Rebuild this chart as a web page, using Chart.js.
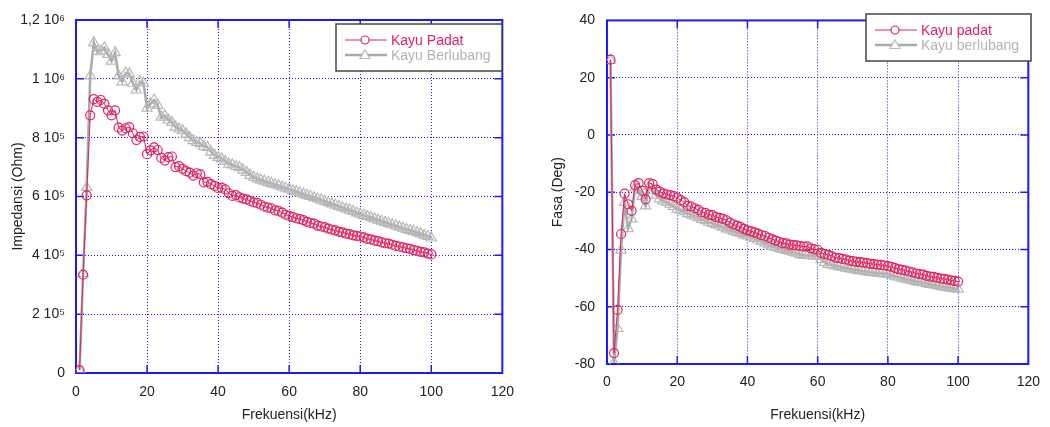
<!DOCTYPE html>
<html>
<head>
<meta charset="utf-8">
<script src="https://cdn.jsdelivr.net/npm/chart.js"></script>
<style>
  html, body { margin: 0; padding: 0; background: #fff; }
  .panel { position: absolute; top: 0; width: 525px; height: 427px; }
  #kiri { left: 0; }
  #kanan { left: 525px; }
</style>
</head>
<body>
<div class="panel" id="kiri"><canvas id="grafikImpedansi" width="525" height="427"></canvas></div>
<div class="panel" id="kanan"><canvas id="grafikFasa" width="525" height="427"></canvas></div>
<script>
// frekuensi (kHz)
const frekuensi = [
  1, 2, 3, 4, 5, 6, 7, 8, 9, 10, 11, 12, 13, 14, 15, 16, 17, 18, 19, 20,
  21, 22, 23, 24, 25, 26, 27, 28, 29, 30, 31, 32, 33, 34, 35, 36, 37, 38, 39, 40,
  41, 42, 43, 44, 45, 46, 47, 48, 49, 50, 51, 52, 53, 54, 55, 56, 57, 58, 59, 60,
  61, 62, 63, 64, 65, 66, 67, 68, 69, 70, 71, 72, 73, 74, 75, 76, 77, 78, 79, 80,
  81, 82, 83, 84, 85, 86, 87, 88, 89, 90, 91, 92, 93, 94, 95, 96, 97, 98, 99, 100
];

// impedansi (Ohm)
const impedansiPadat = [
  10000, 334000, 604000, 876000, 931000, 922000, 928000, 915000, 893000, 876000,
  893000, 834000, 824000, 832000, 836000, 815000, 792000, 803000, 804000, 744000,
  757000, 767000, 758000, 731000, 722000, 734000, 736000, 700000, 703000, 694000,
  686000, 681000, 671000, 679000, 675000, 648000, 650000, 642000, 636000, 628000,
  630000, 624000, 611000, 602000, 605000, 597000, 593000, 590000, 585000, 580000,
  578000, 572000, 566000, 562000, 560000, 553000, 551000, 545000, 538000, 534000,
  530000, 526000, 523000, 520000, 514000, 510000, 508000, 501000, 498000, 496000,
  491000, 487000, 485000, 480000, 478000, 474000, 472000, 468000, 466000, 464000,
  461000, 456000, 454000, 450000, 448000, 444000, 441000, 440000, 436000, 432000,
  430000, 427000, 424000, 422000, 418000, 415000, 412000, 410000, 406000, 403000
];
const impedansiBerlubang = [
  10000, 338000, 631000, 1010000, 1123000, 1092000, 1095000, 1106000, 1083000, 1060000,
  1089000, 1010000, 990000, 1020000, 1017000, 985000, 962000, 990000, 985000, 900000,
  915000, 928000, 910000, 870000, 875000, 860000, 852000, 836000, 830000, 824000,
  812000, 800000, 790000, 784000, 780000, 770000, 767000, 752000, 740000, 733000,
  728000, 720000, 710000, 707000, 702000, 698000, 690000, 682000, 672000, 665000,
  660000, 656000, 652000, 648000, 644000, 640000, 637000, 632000, 628000, 625000,
  620000, 616000, 612000, 608000, 604000, 600000, 596000, 592000, 588000, 583000,
  579000, 575000, 571000, 566000, 562000, 558000, 554000, 549000, 544000, 540000,
  536000, 532000, 528000, 524000, 520000, 516000, 512000, 508000, 504000, 500000,
  496000, 492000, 488000, 485000, 481000, 477000, 473000, 468000, 464000, 459000
];

// fasa (derajat)
const fasaPadat = [
  26.3, -76.2, -61.1, -34.6, -20.5, -24.2, -26.5, -17.5, -16.8, -19.5,
  -22.5, -16.8, -17.2, -19.1, -19.8, -20.4, -20.8, -21.0, -21.4, -22.0,
  -22.8, -23.5, -24.8, -25.0, -25.6, -26.2, -27.0, -27.2, -27.9, -28.0,
  -28.7, -29.0, -29.3, -29.8, -30.6, -31.2, -31.7, -32.1, -32.8, -33.3,
  -33.6, -34.0, -34.5, -35.0, -35.3, -35.9, -36.4, -36.9, -37.3, -37.8,
  -37.9, -38.3, -38.5, -38.6, -38.8, -39.0, -38.9, -39.6, -40.0, -40.1,
  -41.2, -41.6, -41.9, -42.3, -42.9, -43.0, -43.3, -43.5, -43.9, -44.1,
  -44.3, -44.4, -44.6, -44.8, -45.0, -45.1, -45.3, -45.4, -45.6, -45.8,
  -46.1, -46.5, -46.9, -47.1, -47.4, -47.7, -48.0, -48.4, -48.6, -48.8,
  -49.2, -49.5, -49.6, -49.9, -50.2, -50.3, -50.5, -50.8, -51.0, -51.2
];
const fasaBerlubang = [
  26.0, -79.6, -67.6, -40.2, -23.6, -32.7, -29.3, -18.5, -19.2, -21.5,
  -24.8, -17.9, -19.5, -21.0, -22.3, -23.0, -23.6, -24.2, -25.0, -25.9,
  -26.2, -26.8, -27.5, -27.9, -28.4, -28.9, -29.5, -29.9, -30.5, -30.9,
  -31.3, -31.8, -32.2, -32.8, -33.2, -33.6, -34.0, -34.4, -34.9, -35.3,
  -35.7, -36.1, -36.7, -37.2, -37.8, -38.4, -38.9, -39.2, -39.6, -40.0,
  -40.3, -40.6, -40.9, -41.3, -41.8, -42.0, -42.1, -42.2, -42.3, -42.4,
  -43.5, -44.5, -45.2, -45.4, -45.7, -46.0, -46.2, -46.5, -46.7, -47.0,
  -47.2, -47.4, -47.6, -47.8, -48.0, -48.1, -48.3, -48.4, -48.5, -48.6,
  -48.9, -49.3, -49.7, -50.0, -50.3, -50.6, -50.9, -51.2, -51.4, -51.6,
  -51.9, -52.2, -52.4, -52.6, -52.9, -53.1, -53.3, -53.5, -53.7, -53.9
];

// label sumbu
const labelImpedansi = ['0', '2 10\u2075', '4 10\u2075', '6 10\u2075', '8 10\u2075', '1 10\u2076', '1,2 10\u2076'];
const labelFasa = ['-80', '-60', '-40', '-20', '0', '20', '40'];
const namaSeriKiri = ['Kayu Padat', 'Kayu Berlubang'];
const namaSeriKanan = ['Kayu padat', 'Kayu berlubang'];

const MERAH = '#e2225c';
const ABU = '#a9a9a9';
const ABU_TEKS = '#b3b3b3';
const BIRU = '#1a1aff';
const FONT = '"Liberation Sans", Arial, sans-serif';

function titik(xs, ys) {
  return xs.map((x, i) => ({ x: x, y: ys[i] }));
}

function gambarPenanda(ctx, gaya, x, y, warna) {
  ctx.save();
  ctx.strokeStyle = warna;
  ctx.lineWidth = 1.2;
  ctx.beginPath();
  if (gaya === 'circle') {
    ctx.arc(x, y, 4, 0, Math.PI * 2);
  } else {
    ctx.moveTo(x, y - 5);
    ctx.lineTo(x + 5, y + 3.5);
    ctx.lineTo(x - 5, y + 3.5);
    ctx.closePath();
  }
  ctx.fillStyle = '#fff';
  ctx.fill();
  ctx.stroke();
  ctx.restore();
}

// bingkai biru, tanda tick ke dalam, dan kotak legenda
const bingkaiPlugin = {
  id: 'bingkai',
  beforeDatasetsDraw(chart) {
    const { ctx, chartArea: a, scales } = chart;
    ctx.save();
    ctx.strokeStyle = BIRU;
    ctx.lineWidth = 1.5;
    ctx.setLineDash([]);
    scales.x.ticks.forEach(t => {
      const px = scales.x.getPixelForValue(t.value);
      if (px <= a.left + 1 || px >= a.right - 1) return;
      ctx.beginPath();
      ctx.moveTo(px, a.bottom); ctx.lineTo(px, a.bottom - 8);
      ctx.moveTo(px, a.top); ctx.lineTo(px, a.top + 8);
      ctx.stroke();
    });
    scales.y.ticks.forEach(t => {
      const py = scales.y.getPixelForValue(t.value);
      if (py <= a.top + 1 || py >= a.bottom - 1) return;
      ctx.beginPath();
      ctx.moveTo(a.left, py); ctx.lineTo(a.left + 8, py);
      ctx.moveTo(a.right, py); ctx.lineTo(a.right - 8, py);
      ctx.stroke();
    });
    ctx.lineWidth = 2;
    ctx.strokeRect(a.left, a.top, a.right - a.left, a.bottom - a.top);
    ctx.restore();
  },
  afterDraw(chart, args, opts) {
    const { ctx } = chart;
    const k = opts.kotak;
    ctx.save();
    ctx.fillStyle = '#fff';
    ctx.fillRect(k.x, k.y, k.w, k.h);
    ctx.strokeStyle = '#444';
    ctx.lineWidth = 1.5;
    ctx.strokeRect(k.x, k.y, k.w, k.h);
    ctx.font = '14px ' + FONT;
    ctx.textBaseline = 'middle';
    chart.data.datasets.forEach((ds, i) => {
      const y = k.y + 16 + i * 15;
      const x0 = k.x + 9;
      ctx.strokeStyle = ds.borderColor;
      ctx.lineWidth = ds.borderWidth;
      ctx.beginPath();
      ctx.moveTo(x0, y); ctx.lineTo(x0 + 42, y);
      ctx.stroke();
      gambarPenanda(ctx, ds.pointStyle, x0 + 20, y, ds.pointBorderColor);
      ctx.fillStyle = i === 0 ? MERAH : ABU_TEKS;
      ctx.fillText(ds.label, x0 + 46, y + 1);
    });
    ctx.restore();
  }
};

function dataset(label, data, warna, warnaTitik, gaya, tebal, radius) {
  return {
    label: label,
    data: data,
    borderColor: warna,
    borderWidth: tebal,
    pointStyle: gaya,
    pointRadius: radius,
    pointBorderWidth: 1.2,
    pointBorderColor: warnaTitik,
    pointBackgroundColor: 'rgba(255,255,255,0)',
    tension: 0
  };
}

function buatGrafik(id, cfg) {
  return new Chart(document.getElementById(id), {
    type: 'line',
    data: {
      datasets: [
        dataset(cfg.nama[0], titik(frekuensi, cfg.padat), MERAH, MERAH, 'circle', 1, 4.5),
        dataset(cfg.nama[1], titik(frekuensi, cfg.berlubang), ABU, '#b8b8b8', 'triangle', 2.5, 6)
      ]
    },
    options: {
      responsive: false,
      animation: false,
      layout: { padding: cfg.padding },
      plugins: {
        legend: { display: false },
        tooltip: { enabled: false },
        bingkai: { kotak: cfg.kotak }
      },
      scales: {
        x: {
          type: 'linear', min: 0, max: 120,
          ticks: { stepSize: 20, color: '#222', padding: cfg.padX, font: { size: 14, family: FONT } },
          grid: { color: BIRU, lineWidth: 1, drawTicks: false },
          border: { display: false, dash: [1, 2] },
          title: { display: true, text: 'Frekuensi(kHz)', color: '#222', font: { size: 14, family: FONT }, padding: { top: 0, bottom: 3 } },
          afterFit(s) { s.height = cfg.tinggiX; }
        },
        y: {
          type: 'linear', min: cfg.yMin, max: cfg.yMax,
          ticks: {
            stepSize: cfg.yStep, color: '#222', padding: cfg.padY, font: { size: 14, family: FONT },
            callback: (v, i) => cfg.label[i]
          },
          grid: { color: BIRU, lineWidth: 1, drawTicks: false },
          border: { display: false, dash: [1, 2] },
          title: { display: true, text: cfg.judulY, color: '#222', font: { size: 14, family: FONT }, padding: { top: cfg.padJudulY, bottom: 0 } },
          afterFit(s) { s.width = cfg.lebarY; }
        }
      }
    },
    plugins: [bingkaiPlugin]
  });
}

buatGrafik('grafikImpedansi', {
  nama: namaSeriKiri, padat: impedansiPadat, berlubang: impedansiBerlubang,
  yMin: 0, yMax: 1200000, yStep: 200000, label: labelImpedansi,
  judulY: 'Impedansi (Ohm)', padJudulY: 10, lebarY: 76, padY: 11, padX: 11, tinggiX: 54,
  padding: { top: 20, right: 22, bottom: 0, left: 0 },
  kotak: { x: 336, y: 24, w: 166, h: 47 }
});

buatGrafik('grafikFasa', {
  nama: namaSeriKanan, padat: fasaPadat, berlubang: fasaBerlubang,
  yMin: -80, yMax: 40, yStep: 20, label: labelFasa,
  judulY: 'Fasa (Deg)', padJudulY: 25, lebarY: 82, padY: 12, padX: 10, tinggiX: 63,
  padding: { top: 12, right: 17, bottom: 0, left: 0 },
  kotak: { x: 341, y: 14, w: 165, h: 47 }
});
</script>
</body>
</html>
